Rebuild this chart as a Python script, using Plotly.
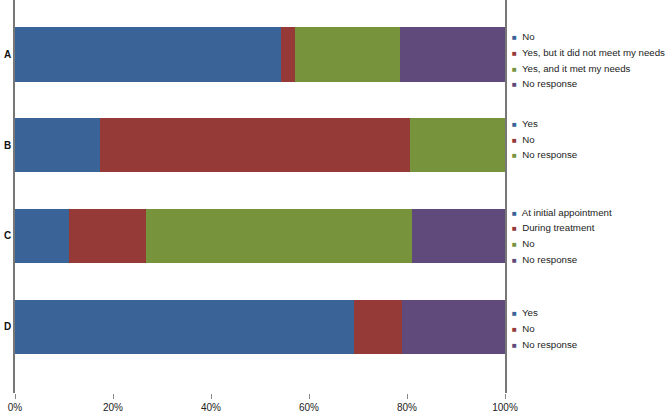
import plotly.graph_objects as go

categories = ["A", "B", "C", "D"]

a_names = ["No", "Yes, but it did not meet my needs", "Yes, and it met my needs", "No response"]
a_values = [54.3, 2.8, 21.5, 21.4]

b_names = ["Yes", "No", "No response"]
b_values = [17.3, 63.3, 19.4]

c_names = ["At initial appointment", "During treatment", "No", "No response"]
c_values = [11.0, 15.7, 54.3, 19.0]

d_names = ["Yes", "No", "No response"]
d_values = [69.2, 9.8, 21.0]

x_ticks = [0, 20, 40, 60, 80, 100]
x_tick_labels = ["0%", "20%", "40%", "60%", "80%", "100%"]

BLUE = "#3A6497"
RED = "#963A38"
GREEN = "#77943C"
PURPLE = "#604A7B"

# legend block vertical nudges (pixels, positive = up)
legend_nudge = [-4, 8, 2, 0]

groups = [
    ("A", a_names, a_values, [BLUE, RED, GREEN, PURPLE]),
    ("B", b_names, b_values, [BLUE, RED, GREEN]),
    ("C", c_names, c_values, [BLUE, RED, GREEN, PURPLE]),
    ("D", d_names, d_values, [BLUE, RED, PURPLE]),
]

fig = go.Figure()
annotations = []
LEG_STEP = 0.172  # legend row spacing in category units

for gi, (cat, names, values, colors) in enumerate(groups):
    n = len(names)
    for i, (nm, v, col) in enumerate(zip(names, values, colors)):
        fig.add_trace(go.Bar(
            y=[cat], x=[v], orientation="h", name=nm,
            marker=dict(color=col, line=dict(width=0)),
            width=0.6, showlegend=False,
        ))
        annotations.append(dict(
            xref="paper", yref="y", x=1.0, y=gi + 0.02 + (i - (n - 1) / 2) * LEG_STEP,
            xanchor="left", yanchor="middle", xshift=5, yshift=legend_nudge[gi],
            showarrow=False,
            text=f"<span style='color:{col};font-size:8px'>■</span>  {nm}",
            font=dict(family="Liberation Sans, Arial, sans-serif", size=9.7, color="#222"),
        ))

fig.update_layout(
    width=667, height=413,
    margin=dict(l=15, r=162, t=0, b=20),
    barmode="stack",
    plot_bgcolor="white", paper_bgcolor="white",
    annotations=annotations,
    xaxis=dict(
        range=[0, 100], tickvals=x_ticks, ticktext=x_tick_labels,
        ticks="outside", ticklen=5, tickcolor="#888", showgrid=False,
        showline=False, zeroline=False, automargin=False,
        tickfont=dict(family="Liberation Sans, Arial, sans-serif", size=10, color="#222"),
    ),
    yaxis=dict(
        type="category", categoryorder="array", categoryarray=categories,
        range=[3.73, -0.6], showgrid=False, zeroline=False,
        showline=True, mirror=True, linecolor="#777", linewidth=1.5,
        ticks="", automargin=False, ticklabelstandoff=0,
        tickfont=dict(family="Liberation Sans, Arial, sans-serif", size=10, color="#111", weight="bold"),
    ),
)

fig.write_html("out.html", config={"displayModeBar": False},
               post_script="document.body.style.margin='0';")
